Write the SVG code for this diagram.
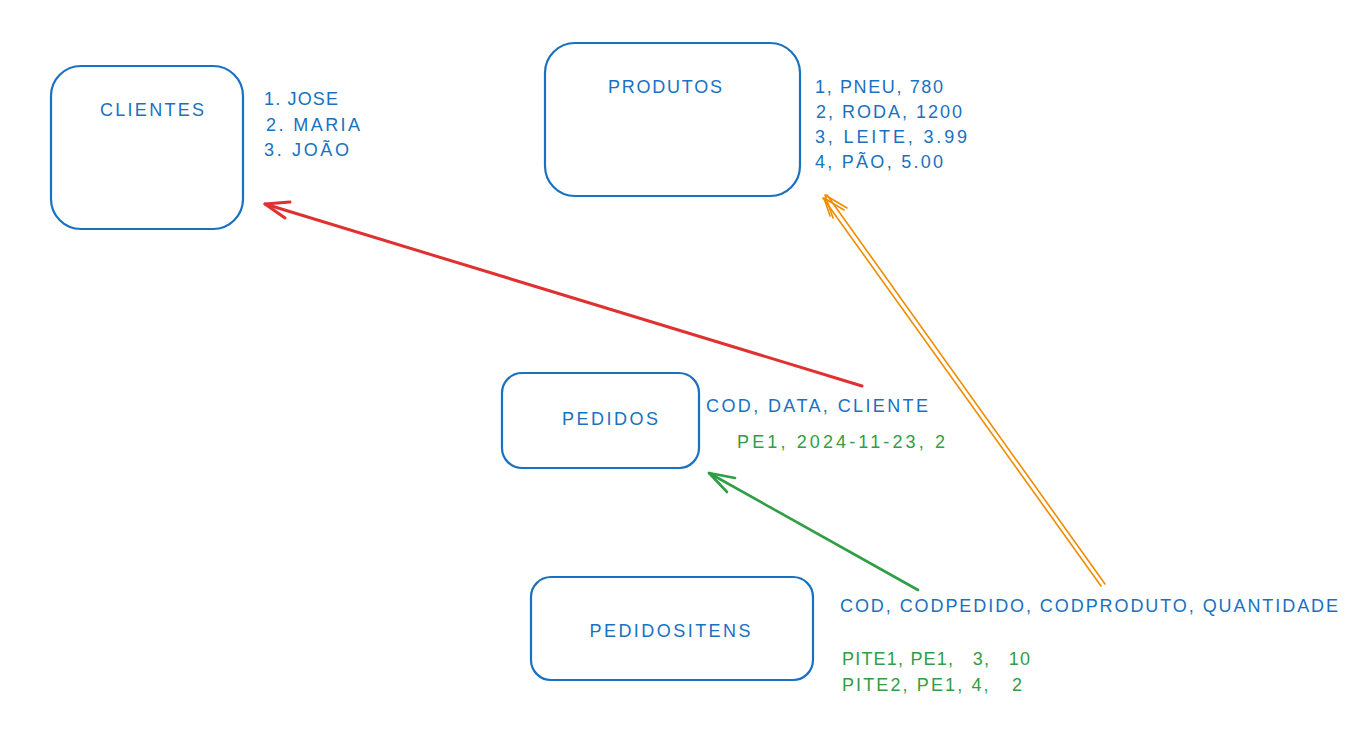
<svg xmlns="http://www.w3.org/2000/svg" width="1369" height="750" viewBox="0 0 1369 750">
<style>
.box{fill:none;stroke:#1971c2;stroke-width:2.2}
.t{font-family:"Comic Sans MS","Liberation Sans",sans-serif;font-size:18px}
.blue{fill:#1971c2}
.green{fill:#2f9e44}
.title{text-anchor:middle}
</style>
<rect width="1369" height="750" fill="#ffffff"/>
<g id="clientes">
<rect class="box" x="51" y="66" width="192" height="163" rx="30"/>
<text class="t blue title" x="152" y="116" textLength="104" lengthAdjust="spacing">CLIENTES</text>
<text class="t blue" x="264" y="105" textLength="74" lengthAdjust="spacing">1. JOSE</text>
<text class="t blue" x="266" y="131" textLength="94" lengthAdjust="spacing">2. MARIA</text>
<text class="t blue" x="264" y="156" textLength="85" lengthAdjust="spacing">3. JOÃO</text>
</g>
<g id="produtos">
<rect class="box" x="545" y="43" width="255" height="153" rx="30"/>
<text class="t blue title" x="665" y="93" textLength="114" lengthAdjust="spacing">PRODUTOS</text>
<text class="t blue" x="815" y="93" textLength="128" lengthAdjust="spacing">1, PNEU, 780</text>
<text class="t blue" x="816" y="118" textLength="146" lengthAdjust="spacing">2, RODA, 1200</text>
<text class="t blue" x="815" y="143" textLength="152" lengthAdjust="spacing">3, LEITE, 3.99</text>
<text class="t blue" x="815" y="168" textLength="128" lengthAdjust="spacing">4, PÃO, 5.00</text>
</g>
<g id="pedidos">
<rect class="box" x="502" y="373" width="197" height="95" rx="20"/>
<text class="t blue title" x="610" y="425" textLength="96" lengthAdjust="spacing">PEDIDOS</text>
<text class="t blue" x="706" y="412" textLength="222" lengthAdjust="spacing">COD, DATA, CLIENTE</text>
<text class="t green" x="737" y="448" textLength="208" lengthAdjust="spacing">PE1, 2024-11-23, 2</text>
</g>
<g id="pedidositens">
<rect class="box" x="531" y="577" width="282" height="103" rx="20"/>
<text class="t blue title" x="670" y="637" textLength="161" lengthAdjust="spacing">PEDIDOSITENS</text>
<text class="t blue" x="840" y="612" textLength="498" lengthAdjust="spacing">COD, CODPEDIDO, CODPRODUTO, QUANTIDADE</text>
<text class="t green" x="842" y="665" xml:space="preserve" textLength="188" lengthAdjust="spacing">PITE1, PE1,   3,   10</text>
<text class="t green" x="842" y="691" xml:space="preserve" textLength="180" lengthAdjust="spacing">PITE2, PE1, 4,   2</text>
</g>
<g id="connectors" fill="none" stroke-linecap="round" stroke-linejoin="round">
<g stroke="#e03131" stroke-width="3">
<path d="M862 386 L265 204"/>
<path d="M290 202 L265 204 L285 218"/>
</g>
<g stroke="#2f9e44" stroke-width="2.6">
<path d="M918 590 L709 473"/>
<path d="M735 478 L709 473 L727 492"/>
</g>
<g stroke="#f08c00" stroke-width="1.6">
<path d="M1101 586 L823 198"/>
<path d="M1105 584 L827 195"/>
<path d="M847 208 L825 195 L833 218"/>
<path d="M844 210 L824 198 L830 216"/>
</g>
</g>
</svg>
